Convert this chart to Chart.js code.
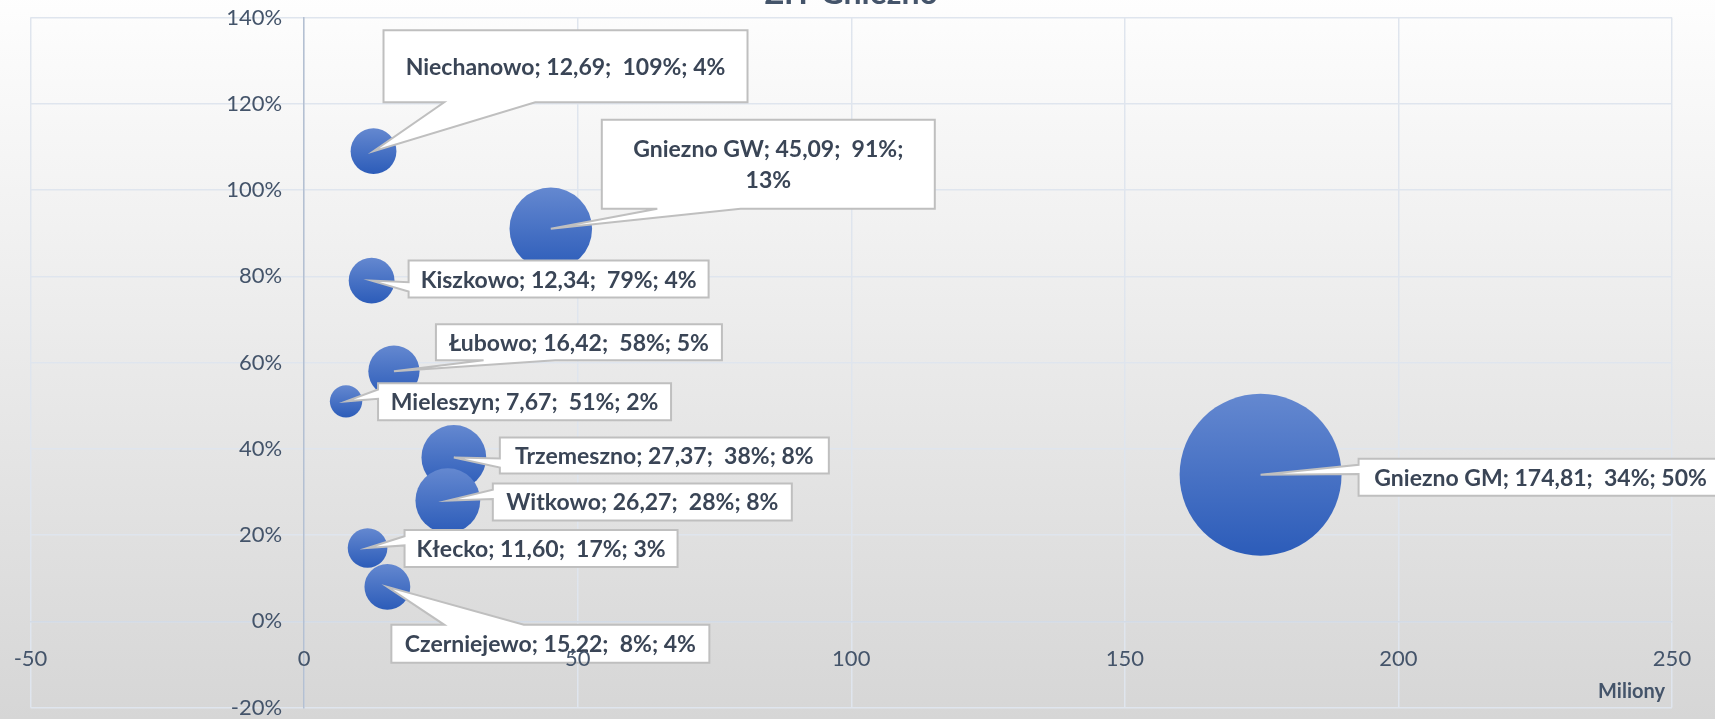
<!DOCTYPE html>
<html lang="pl">
<head>
<meta charset="utf-8">
<title>ZIT Gniezno</title>
<script src="https://cdn.jsdelivr.net/npm/chart.js@4.4.1/dist/chart.umd.min.js"></script>
<style>
  html, body { margin: 0; padding: 0; overflow: hidden; background: #fff; }
  /* the chart title sits partly above the visible window, as in the slide */
  #wrap {
    position: relative; width: 1715px; height: 745px; margin-top: -26px;
    background: linear-gradient(to bottom, #ffffff 0%, #d6d6d6 100%);
  }
</style>
</head>
<body>
<div id="wrap"><canvas id="chart"></canvas></div>
<script>
// dane (x w mln zł, y w %, wielkość bąbla = udział w %)
const gminy    = ['Niechanowo', 'Gniezno GW', 'Kiszkowo', 'Łubowo', 'Mieleszyn', 'Trzemeszno', 'Gniezno GM', 'Witkowo', 'Kłecko', 'Czerniejewo'];
const dochody  = [12.69, 45.09, 12.34, 16.42, 7.67, 27.37, 174.81, 26.27, 11.60, 15.22];
const wskaznik = [109, 91, 79, 58, 51, 38, 34, 28, 17, 8];
const udzial   = [4, 13, 4, 5, 2, 8, 50, 8, 3, 4];

const xTicks = [-50, 0, 50, 100, 150, 200, 250];
const yTicks = [-20, 0, 20, 40, 60, 80, 100, 120, 140];

// label boxes: [dx, dy, width, height] from the bubble centre, in px
const labelBoxes = [
  [10, -121, 364, 72],
  [51, -109, 333, 89],
  [37, -20, 300, 37],
  [42, -47, 286, 36],
  [32, -18, 293, 37],
  [46, -20, 329, 36],
  [98, -16, 364, 37],
  [45, -17, 299, 37],
  [37, -18, 273, 37],
  [4, 38, 318, 38]
];

const textColor = '#44546a';
const labelColor = '#3a4556';
const bubbleRadius = p => 11.45 * Math.sqrt(p);
const fmt = v => v.toFixed(2).replace('.', ',');

function labelText(i) {
  return gminy[i] + '; ' + fmt(dochody[i]) + ';  ' + wskaznik[i] + '%; ' + udzial[i] + '%';
}

function wrapText(ctx, text, maxW) {
  const words = text.split(' ');
  const lines = [];
  let line = '';
  words.forEach(w => {
    const test = line ? line + ' ' + w : w;
    if (line && ctx.measureText(test).width > maxW) {
      lines.push(line);
      line = w;
    } else {
      line = test;
    }
  });
  if (line) lines.push(line);
  return lines;
}

// wedgeRectCallout like in Office
function drawCallout(ctx, bx, by, w, h, tx, ty) {
  const hc = bx + w / 2, vc = by + h / 2;
  const dxPos = tx - hc, dyPos = ty - vc;
  const x1 = bx + w * (dxPos > 0 ? 7 : 2) / 12;
  const x2 = bx + w * (dxPos > 0 ? 10 : 5) / 12;
  const y1 = by + h * (dyPos > 0 ? 7 : 2) / 12;
  const y2 = by + h * (dyPos > 0 ? 10 : 5) / 12;
  const vertical = Math.abs(dyPos) > Math.abs(dxPos * h / w);
  const side = vertical ? (dyPos < 0 ? 'top' : 'bottom') : (dxPos < 0 ? 'left' : 'right');

  ctx.beginPath();
  ctx.moveTo(bx, by);
  if (side === 'top') { ctx.lineTo(x1, by); ctx.lineTo(tx, ty); ctx.lineTo(x2, by); }
  ctx.lineTo(bx + w, by);
  if (side === 'right') { ctx.lineTo(bx + w, y1); ctx.lineTo(tx, ty); ctx.lineTo(bx + w, y2); }
  ctx.lineTo(bx + w, by + h);
  if (side === 'bottom') { ctx.lineTo(x2, by + h); ctx.lineTo(tx, ty); ctx.lineTo(x1, by + h); }
  ctx.lineTo(bx, by + h);
  if (side === 'left') { ctx.lineTo(bx, y2); ctx.lineTo(tx, ty); ctx.lineTo(bx, y1); }
  ctx.closePath();
  ctx.fillStyle = '#ffffff';
  ctx.fill();
  ctx.lineWidth = 2;
  ctx.strokeStyle = '#bfbfbf';
  ctx.stroke();
}

// y tick labels left of the crossing axis (Chart.js puts them flush on it)
const yLabelsPlugin = {
  id: 'yLabels',
  beforeDatasetsDraw(chart) {
    const ctx = chart.ctx;
    const xs = chart.scales.x, ys = chart.scales.y;
    const x0 = xs.getPixelForValue(0) - 22;
    ctx.save();
    ctx.font = '22px Lato';
    ctx.fillStyle = textColor;
    ctx.textAlign = 'right';
    ctx.textBaseline = 'middle';
    yTicks.forEach(v => ctx.fillText(v + '%', x0, ys.getPixelForValue(v)));
    ctx.restore();
  }
};

const calloutPlugin = {
  id: 'callouts',
  afterDatasetsDraw(chart) {
    const ctx = chart.ctx;
    const meta = chart.getDatasetMeta(0);
    ctx.save();
    ctx.font = 'bold 23px Lato';
    meta.data.forEach((pt, i) => {
      const [dx, dy, w, h] = labelBoxes[i];
      const bx = pt.x + dx, by = pt.y + dy;
      drawCallout(ctx, bx, by, w, h, pt.x, pt.y);
      const lines = wrapText(ctx, labelText(i), w - 20);
      const lh = 31;
      ctx.fillStyle = labelColor;
      ctx.textAlign = 'center';
      ctx.textBaseline = 'middle';
      lines.forEach((ln, k) => {
        ctx.fillText(ln, bx + w / 2, by + h / 2 + (k - (lines.length - 1) / 2) * lh + 1);
      });
    });
    // axis title
    const area = chart.chartArea;
    ctx.font = 'bold 20px Lato';
    ctx.fillStyle = textColor;
    ctx.textAlign = 'right';
    ctx.textBaseline = 'middle';
    ctx.fillText('Miliony', area.right - 7, area.bottom - 16);
    ctx.restore();
  }
};

const points = dochody.map((x, i) => ({ x: x, y: wskaznik[i], r: bubbleRadius(udzial[i]) }));

const ctx = document.getElementById('chart').getContext('2d');

const chart = new Chart(ctx, {
  type: 'bubble',
  data: {
    datasets: [{
      label: 'Gminy',
      data: points,
      borderWidth: 0,
      backgroundColor: function (c) {
        if (c.type !== 'data') return '#4472c4';
        const yPx = c.chart.scales.y ? c.chart.scales.y.getPixelForValue(wskaznik[c.dataIndex]) : NaN;
        if (!isFinite(yPx)) return '#4472c4';
        const r = bubbleRadius(udzial[c.dataIndex]);
        const g = c.chart.ctx.createLinearGradient(0, yPx - r, 0, yPx + r);
        g.addColorStop(0, '#6488d0');
        g.addColorStop(1, '#2c5cb9');
        return g;
      },
    }],
  },
  options: {
    responsive: true,
    maintainAspectRatio: false,
    animation: false,
    events: [],
    layout: {
      autoPadding: false, // no extra room for the big bubble
      padding: { left: 30.5, right: 43, top: 0, bottom: 11.4 },
    },
    scales: {
      x: {
        type: 'linear',
        min: -50,
        max: 250,
        position: { y: 0 },
        afterBuildTicks: s => { s.ticks = xTicks.map(v => ({ value: v })); },
        afterFit: s => { s.paddingLeft = 0; s.paddingRight = 0; s.paddingTop = 0; s.paddingBottom = 0; },
        ticks: {
          color: textColor,
          font: { family: 'Lato', size: 22 },
          padding: 24,
          maxRotation: 0,
          autoSkip: false,
          z: 1,
          callback: v => String(v),
        },
        grid: {
          color: '#dfe5ee',
          lineWidth: 1.5,
          drawTicks: false,
        },
        border: { color: '#d3dbe6', width: 1.5 },
      },
      y: {
        type: 'linear',
        min: -20,
        max: 140,
        position: { x: 0 },
        afterBuildTicks: s => { s.ticks = yTicks.map(v => ({ value: v })); },
        afterFit: s => { s.paddingLeft = 0; s.paddingRight = 0; s.paddingTop = 0; s.paddingBottom = 0; },
        ticks: { display: false },
        grid: {
          color: '#dfe5ee',
          lineWidth: 1.5,
          drawTicks: false,
        },
        border: { color: '#b4c0d2', width: 1.5 },
      },
    },
    plugins: {
      legend: { display: false },
      tooltip: { enabled: false },
      title: {
        display: true,
        text: 'ZIT Gniezno',
        color: textColor,
        font: { family: 'Lato', size: 32, weight: 'bold', lineHeight: 1.2 },
        padding: { top: 0, bottom: 5.1 },
      },
    },
  },
  plugins: [yLabelsPlugin, calloutPlugin],
});
</script>
</body>
</html>
